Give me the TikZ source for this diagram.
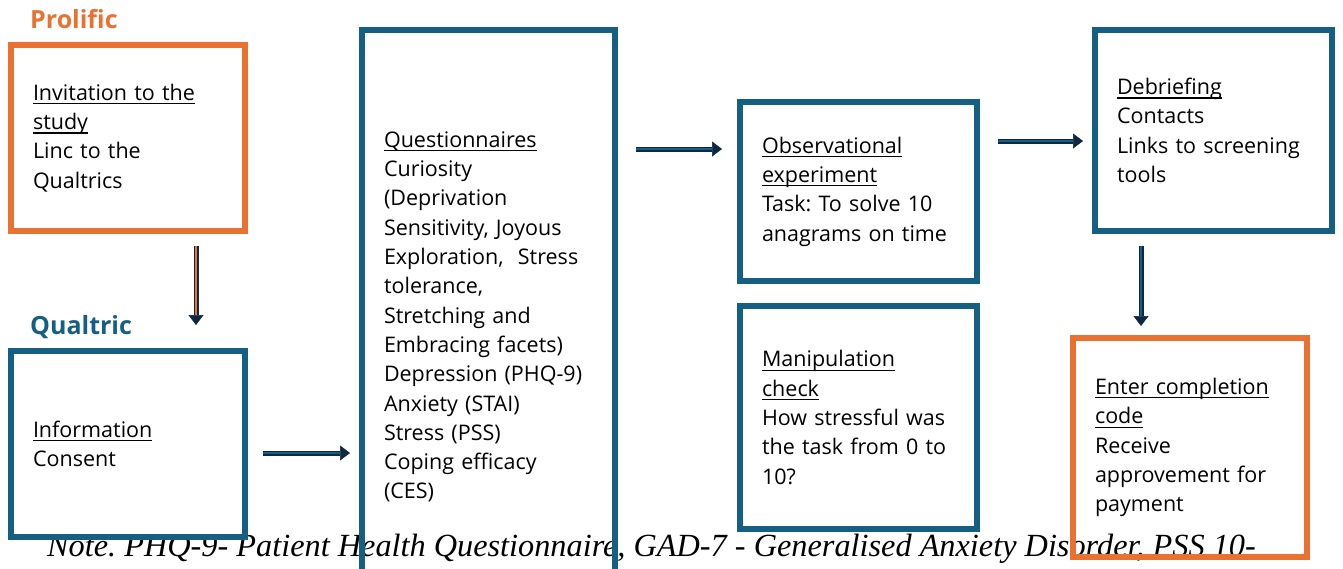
\documentclass[tikz,border=0pt]{standalone}
\usepackage{fontspec}
\setmainfont{Open Sans}
\newfontfamily\notefont{Liberation Serif}
\usetikzlibrary{arrows.meta}
\usetikzlibrary{calc}
\usetikzlibrary{positioning}

\definecolor{prolificorange}{HTML}{E97132}
\definecolor{qualtricblue}{HTML}{156082}
\definecolor{arrownavy}{HTML}{0E2841}

\frenchspacing
\newcommand{\stageul}[1]{\leavevmode\setbox0\hbox{#1}\rlap{\rule[-4pt]{\wd0}{1.2pt}}\box0}

\tikzset{
    stagebox/.style={
        rectangle, draw=#1, line width=6pt, outer sep=0pt,
        inner xsep=22pt, inner ysep=0pt, align=left, text=black,
        font=\fontsize{21.5}{29.3}\selectfont,
    },
    flow/.style={
        draw=#1, line width=1.8pt, shorten >=10pt,
        preaction={
            draw=arrownavy, line width=5pt, shorten >=0pt,
            -{Triangle[width=15pt, length=10pt, line width=0.5pt]},
        },
    },
    heading/.style={
        anchor=base west, inner sep=0pt, text=#1,
        font=\bfseries\fontsize{25}{30}\selectfont,
    },
}

\begin{document}
\begin{tikzpicture}[x=1pt, y=-1pt]
    \useasboundingbox (0,0) rectangle (1343,568);

    % note line sits under the boxes
    \node (note) at(47,556) [
        anchor=base west, inner sep=0pt,
        font=\notefont\itshape\fontsize{32.3}{36}\selectfont,
    ] {Note. PHQ-9- Patient Health Questionnaire, GAD-7 - Generalised Anxiety Disorder, PSS 10-};

    \node (prolifichead) at(30,28) [heading=prolificorange] {Prolific};
    \node (qualtrichead) at(30,334) [heading=qualtricblue] {Qualtric};

    \node (prolific) at(128,138) [
        stagebox=prolificorange, text width=190pt, minimum height=186pt,
    ] {\stageul{Invitation to the}\\\stageul{study}\\Linc to the\\Qualtrics};

    \node (qualtric) at(128,444) [
        stagebox=qualtricblue, text width=190pt, minimum height=186pt,
    ] {\stageul{Information}\\Consent};

    \node (quest) at(488.5,317) [
        stagebox=qualtricblue, text width=209pt, minimum height=574pt,
    ] {\stageul{Questionnaires}\\Curiosity\\(Deprivation\\Sensitivity, Joyous\\
       Exploration,\ \ Stress\\tolerance,\\Stretching and\\Embracing facets)\\
       Depression (PHQ-9)\\Anxiety (STAI)\\Stress (PSS)\\Coping efficacy\\(CES)};

    \node (observ) at(858.5,191.5) [
        stagebox=qualtricblue, text width=193pt, minimum height=179pt,
    ] {\stageul{Observational}\\\stageul{experiment}\\Task: To solve 10\\anagrams on time};

    \node (manip) at(858.5,417.5) [
        stagebox=qualtricblue, text width=193pt, minimum height=223pt,
    ] {\stageul{Manipulation}\\\stageul{check}\\How stressful was\\the task from 0 to\\10?};

    \node (debrief) at(1213.5,130.5) [
        stagebox=qualtricblue, text width=193pt, minimum height=201pt,
    ] {\stageul{Debriefing}\\Contacts\\Links to screening\\tools};

    \node (enter) at(1190,447.5) [
        stagebox=prolificorange, text width=190pt, minimum height=219pt,
    ] {\stageul{Enter completion}\\\stageul{code}\\Receive\\approvement for\\payment};

    % connectors
    \draw[flow=prolificorange] ($(prolific.south)+(68,15)$) -- ($(prolific.south |- qualtric.north)+(68,-26)$);
    \draw[flow=qualtricblue] ($(qualtric.east)+(18,9)$) -- ($(qualtric.east -| quest.west)+(-12,9)$);
    \draw[flow=qualtricblue] ($(observ.west -| quest.east)+(21,-42.5)$) -- ($(observ.west)+(-18,-42.5)$);
    \draw[flow=qualtricblue] ($(debrief.west -| observ.east)+(21,10.5)$) -- ($(debrief.west)+(-12,10.5)$);
    \draw[flow=qualtricblue] ($(debrief.south)+(-72.5,15)$) -- ($(debrief.south |- enter.north)+(-72.5,-12)$);
\end{tikzpicture}
\end{document}
